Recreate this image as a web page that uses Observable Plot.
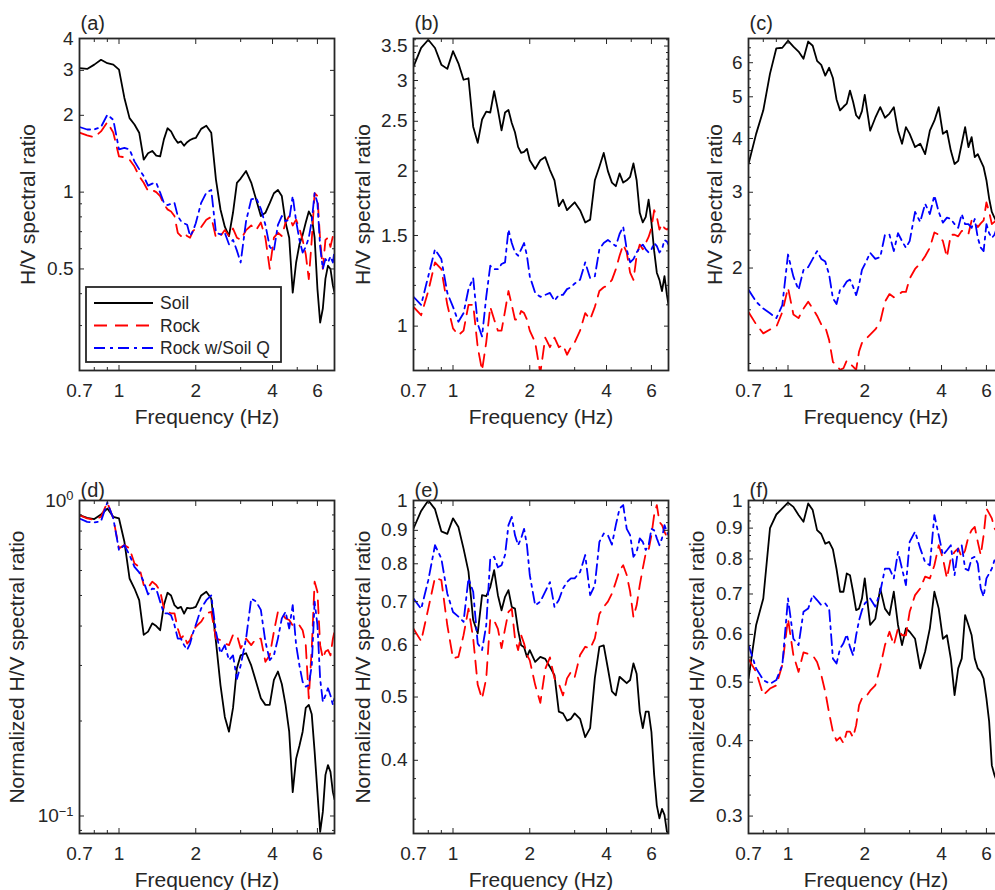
<!DOCTYPE html>
<html><head><meta charset="utf-8">
<script src="https://cdn.jsdelivr.net/npm/d3@7"></script>
<script src="https://cdn.jsdelivr.net/npm/@observablehq/plot@0.6"></script>
<style>
html,body{margin:0;padding:0;background:#fff;overflow:hidden}
#wrap{position:relative;width:995px;height:890px;overflow:hidden;font-family:"Liberation Sans",Arial,Helvetica,sans-serif}
#wrap > svg{position:absolute}
</style></head>
<body><div id="wrap"></div>
<script>
// ---- data ----
const freq = [0.70,0.75,0.80,0.85,0.90,0.95,1.00,1.05,1.10,1.15,1.20,1.25,1.30,1.35,1.40,1.45,1.50,1.55,1.60,1.65,1.70,1.75,1.80,1.85,1.90,1.95,2.00,
  2.10,2.20,2.30,2.40,2.50,2.60,2.70,2.80,2.90,3.00,
  3.15,3.30,3.45,3.60,3.75,3.90,4.05,4.20,4.35,4.50,4.65,4.80,4.95,5.10,5.25,5.40,5.55,5.70,5.85,6.00,6.15,6.30,6.45,6.60,6.75,6.90,7.00];

const seriesNames = ["Soil", "Rock", "Rock w/Soil Q"];

const aSoil = [3.06,3.04,3.16,3.30,3.20,3.16,3.02,2.34,1.95,1.84,1.71,1.34,1.42,1.45,1.39,1.38,1.61,1.78,1.73,1.63,1.56,1.58,1.52,1.57,1.60,1.62,1.63,
  1.77,1.82,1.71,1.12,0.855,0.732,0.673,0.832,1.088,1.13,
  1.21,1.09,0.936,0.806,0.83,0.905,0.99,1.02,0.965,0.76,0.663,0.404,0.53,0.624,0.68,0.76,0.84,0.80,0.663,0.418,0.308,0.35,0.458,0.515,0.5,0.43,0.404];
const aRock = [1.71,1.67,1.64,1.73,1.88,1.71,1.38,1.37,1.34,1.26,1.155,1.088,1.01,1.02,1.0,0.965,0.895,0.856,0.84,0.806,0.693,0.673,0.693,0.673,0.663,0.704,0.72,
  0.73,0.78,0.80,0.663,0.673,0.71,0.673,0.72,0.663,0.65,
  0.71,0.74,0.71,0.76,0.663,0.5,0.663,0.693,0.673,0.76,0.806,0.74,0.78,0.72,0.65,0.57,0.456,0.65,0.99,0.965,0.65,0.5,0.65,0.663,0.61,0.673,0.65];
const aRockQ = [1.80,1.76,1.76,1.80,2.01,1.92,1.47,1.49,1.47,1.32,1.23,1.155,1.06,1.08,1.088,0.995,0.908,0.89,0.9,0.908,0.806,0.77,0.755,0.745,0.673,0.704,0.755,
  0.908,0.995,1.02,0.693,0.683,0.693,0.624,0.65,0.59,0.53,
  0.77,0.936,0.95,0.86,0.745,0.61,0.59,0.745,0.806,0.77,0.78,0.965,0.77,0.65,0.58,0.61,0.663,0.77,0.99,0.908,0.61,0.5,0.547,0.53,0.56,0.53,0.59];

const bSoil = [3.19,3.47,3.60,3.47,3.22,3.16,3.42,3.24,3.01,3.03,2.44,2.27,2.52,2.61,2.60,2.86,2.63,2.40,2.60,2.63,2.48,2.38,2.23,2.17,2.18,2.21,2.10,
  2.02,2.10,2.13,2.01,1.92,1.71,1.76,1.68,1.71,1.74,
  1.68,1.59,1.61,1.92,2.04,2.17,2.0,1.90,1.87,1.98,1.90,1.92,1.95,2.07,1.92,1.66,1.59,1.63,1.76,1.59,1.40,1.27,1.23,1.17,1.25,1.15,1.10];
const bRock = [1.09,1.05,1.17,1.33,1.29,1.10,0.99,0.96,0.98,1.10,1.10,0.91,0.82,0.93,1.09,1.03,0.98,0.98,1.07,1.17,1.10,1.03,1.03,1.07,1.06,1.03,0.98,
  0.93,0.81,0.95,0.91,0.95,0.91,0.92,0.88,0.91,0.93,
  0.98,1.06,1.03,1.09,1.17,1.19,1.20,1.23,1.29,1.37,1.44,1.39,1.27,1.23,1.37,1.44,1.41,1.45,1.49,1.55,1.68,1.63,1.54,1.58,1.55,1.54,1.55];
const bRockQ = [1.14,1.10,1.25,1.41,1.35,1.16,1.09,1.02,1.06,1.18,1.24,1.01,0.955,1.14,1.31,1.29,1.29,1.32,1.33,1.54,1.45,1.39,1.37,1.41,1.45,1.37,1.25,
  1.16,1.14,1.15,1.16,1.12,1.15,1.15,1.18,1.19,1.21,
  1.23,1.33,1.24,1.25,1.41,1.45,1.47,1.45,1.43,1.51,1.56,1.41,1.33,1.35,1.39,1.42,1.44,1.41,1.39,1.41,1.45,1.43,1.39,1.41,1.47,1.46,1.44];

const cSoil = [3.49,4.10,4.65,5.66,6.48,6.50,6.75,6.54,6.37,6.13,6.72,6.57,6.06,5.93,5.60,5.84,5.53,4.93,4.65,4.74,4.82,5.17,4.87,4.53,4.45,4.63,5.05,
  4.17,4.47,4.73,4.47,4.57,4.73,4.17,3.89,4.25,4.10,
  3.82,3.89,3.68,4.17,4.40,4.73,4.10,4.17,3.75,3.49,3.55,3.89,4.25,3.82,4.03,3.62,3.68,3.55,3.43,3.20,2.90,2.70,2.62,2.55,2.50,2.45,2.40];
const cRock = [1.58,1.48,1.41,1.44,1.46,1.58,1.80,1.56,1.53,1.61,1.67,1.61,1.55,1.48,1.46,1.36,1.21,1.19,1.16,1.17,1.22,1.20,1.18,1.16,1.28,1.34,1.36,
  1.40,1.44,1.50,1.67,1.74,1.71,1.73,1.76,1.76,1.89,
  1.99,2.05,2.13,2.23,2.42,2.39,2.31,2.12,2.39,2.39,2.37,2.44,2.44,2.40,2.58,2.56,2.49,2.54,2.58,2.84,2.70,2.53,2.56,2.62,2.67,2.62,2.60];
const cRockQ = [1.78,1.67,1.61,1.57,1.53,1.64,2.15,1.91,1.78,1.98,2.01,2.10,2.19,2.10,2.07,1.93,1.70,1.65,1.78,1.81,1.86,1.88,1.81,1.73,1.83,1.98,2.04,
  2.17,2.10,2.12,2.39,2.39,2.19,2.41,2.31,2.23,2.31,
  2.70,2.56,2.82,2.67,2.95,2.70,2.55,2.62,2.60,2.53,2.48,2.67,2.53,2.53,2.48,2.60,2.35,2.23,2.19,2.53,2.41,2.35,2.39,2.48,2.43,2.40,2.41];

const dSoil = [0.899,0.881,0.873,0.903,0.943,0.888,0.877,0.74,0.566,0.526,0.483,0.375,0.384,0.408,0.40,0.388,0.466,0.51,0.50,0.466,0.455,0.46,0.438,0.457,0.455,0.457,0.46,
  0.50,0.514,0.489,0.357,0.26,0.206,0.185,0.22,0.294,0.323,
  0.328,0.30,0.266,0.236,0.225,0.225,0.27,0.287,0.262,0.225,0.185,0.119,0.152,0.167,0.185,0.22,0.225,0.21,0.16,0.119,0.089,0.103,0.135,0.145,0.138,0.119,0.113];
const dRock = [0.899,0.877,0.869,0.888,0.986,0.877,0.705,0.722,0.705,0.631,0.616,0.54,0.529,0.553,0.54,0.516,0.455,0.444,0.439,0.439,0.393,0.365,0.375,0.352,0.361,0.384,0.398,
  0.413,0.439,0.444,0.365,0.361,0.352,0.348,0.375,0.375,0.34,
  0.365,0.348,0.365,0.365,0.308,0.323,0.384,0.444,0.439,0.423,0.418,0.402,0.398,0.402,0.388,0.348,0.236,0.34,0.553,0.514,0.348,0.316,0.332,0.336,0.323,0.365,0.384];
const dRockQ = [0.877,0.856,0.852,0.86,0.986,0.877,0.696,0.722,0.671,0.616,0.592,0.553,0.504,0.526,0.524,0.478,0.439,0.439,0.433,0.403,0.365,0.365,0.348,0.336,0.352,0.38,0.403,
  0.455,0.483,0.50,0.384,0.328,0.348,0.312,0.323,0.272,0.30,
  0.365,0.489,0.478,0.45,0.357,0.312,0.323,0.365,0.423,0.444,0.393,0.466,0.348,0.30,0.266,0.257,0.26,0.30,0.478,0.403,0.272,0.23,0.241,0.254,0.241,0.225,0.236];

const eSoil = [0.906,0.964,1.0,0.97,0.897,0.889,0.939,0.911,0.844,0.778,0.656,0.626,0.716,0.714,0.737,0.782,0.716,0.679,0.712,0.729,0.687,0.683,0.633,0.60,0.596,0.576,0.59,
  0.566,0.576,0.572,0.556,0.54,0.475,0.472,0.46,0.463,0.472,
  0.463,0.434,0.448,0.535,0.597,0.60,0.553,0.51,0.503,0.537,0.531,0.525,0.531,0.563,0.543,0.475,0.448,0.475,0.475,0.442,0.38,0.341,0.326,0.337,0.33,0.311,0.309];
const eRock = [0.636,0.609,0.683,0.762,0.755,0.644,0.573,0.576,0.622,0.683,0.615,0.522,0.497,0.534,0.659,0.655,0.636,0.594,0.636,0.675,0.683,0.615,0.59,0.622,0.604,0.58,0.569,
  0.522,0.49,0.552,0.575,0.534,0.524,0.503,0.534,0.546,0.536,
  0.58,0.597,0.593,0.615,0.67,0.687,0.70,0.72,0.75,0.782,0.796,0.769,0.725,0.663,0.691,0.742,0.787,0.83,0.84,0.885,0.95,0.984,0.927,0.917,0.895,0.88,0.885];
const eRockQ = [0.708,0.682,0.755,0.854,0.815,0.72,0.675,0.664,0.652,0.76,0.725,0.604,0.59,0.644,0.815,0.82,0.79,0.796,0.825,0.917,0.944,0.885,0.854,0.875,0.905,0.854,0.769,
  0.691,0.70,0.725,0.75,0.687,0.704,0.733,0.75,0.76,0.76,
  0.777,0.825,0.716,0.742,0.864,0.89,0.885,0.856,0.917,0.972,0.984,0.905,0.885,0.82,0.834,0.875,0.864,0.84,0.854,0.905,0.9,0.875,0.854,0.875,0.917,0.895,0.885];

const fSoil = [0.507,0.622,0.688,0.90,0.948,0.97,0.992,0.976,0.946,0.922,0.989,0.964,0.893,0.88,0.848,0.854,0.83,0.77,0.706,0.706,0.757,0.752,0.706,0.658,0.662,0.688,0.743,
  0.622,0.637,0.715,0.662,0.646,0.706,0.622,0.576,0.614,0.606,
  0.59,0.527,0.562,0.614,0.706,0.662,0.59,0.598,0.547,0.476,0.527,0.547,0.646,0.622,0.598,0.547,0.527,0.52,0.507,0.47,0.43,0.364,0.351,0.342,0.337,0.333,0.329];
const fRock = [0.546,0.52,0.476,0.488,0.494,0.534,0.637,0.554,0.52,0.56,0.557,0.554,0.54,0.514,0.482,0.444,0.414,0.40,0.405,0.396,0.414,0.414,0.405,0.424,0.458,0.47,0.47,
  0.484,0.494,0.53,0.576,0.606,0.576,0.614,0.598,0.598,0.654,
  0.697,0.715,0.748,0.743,0.781,0.843,0.802,0.743,0.802,0.822,0.833,0.806,0.827,0.871,0.893,0.904,0.854,0.812,0.876,0.97,0.952,0.934,0.899,0.888,0.9,0.888,0.894];
const fRockQ = [0.576,0.527,0.504,0.497,0.504,0.534,0.688,0.59,0.576,0.654,0.662,0.697,0.684,0.671,0.675,0.662,0.547,0.537,0.568,0.58,0.6,0.572,0.554,0.598,0.633,0.658,0.675,
  0.688,0.667,0.706,0.771,0.771,0.743,0.822,0.771,0.724,0.854,
  0.888,0.833,0.79,0.781,0.946,0.876,0.812,0.827,0.843,0.752,0.833,0.843,0.771,0.766,0.802,0.807,0.786,0.715,0.693,0.743,0.757,0.771,0.796,0.79,0.78,0.786,0.781];

// tick values and labels
const xTicks = [0.7, 1, 2, 4, 6];
const xMinor = [0.8, 0.9, 3, 5, 7];
const yTicksA = [0.5, 1, 2, 3, 4];
const yTicksB = [1, 1.5, 2, 2.5, 3, 3.5];
const yTicksC = [2, 3, 4, 5, 6];
const yTicksD = [0.1, 1];
const yTicksE = [0.4, 0.5, 0.6, 0.7, 0.8, 0.9, 1];
const yTicksF = [0.3, 0.4, 0.5, 0.6, 0.7, 0.8, 0.9, 1];
const panelLetters = ["(a)", "(b)", "(c)", "(d)", "(e)", "(f)"];
const yTitleTop = "H/V spectral ratio";
const yTitleBottom = "Normalized H/V spectral ratio";
const xTitle = "Frequency (Hz)";

// ---- layout ----
const minorE = d3.range(0.325, 1.0, 0.025).map(v => +v.toFixed(3)).filter(v => !yTicksE.some(t => Math.abs(t - v) < 1e-6));
const minorF = d3.range(0.3, 1.0, 0.025).map(v => +v.toFixed(3)).filter(v => !yTicksF.some(t => Math.abs(t - v) < 1e-6));
const fmt = d => String(d);
const panels = [
  {letter: panelLetters[0], left: 79, top: 38, h: 332, ydom: [0.2, 4], yTicks: yTicksA, yMinor: [0.3,0.4,0.6,0.7,0.8,0.9], fmt, title: yTitleTop, yOff: 59, lDy: -9, s: [aSoil, aRock, aRockQ]},
  {letter: panelLetters[1], left: 413, top: 38, h: 332, ydom: [0.82, 3.62], yTicks: yTicksB, yMinor: [0.9,1.1,1.2,1.3,1.4,1.6,1.7,1.8,1.9,2.1,2.2,2.3,2.4,2.6,2.7,2.8,2.9,3.1,3.2,3.3,3.4,3.6], fmt, title: yTitleTop, yOff: 58, lDy: -9, s: [bSoil, bRock, bRockQ]},
  {letter: panelLetters[2], left: 748, top: 38, h: 332, ydom: [1.156, 6.83], yTicks: yTicksC, yMinor: [1.2,1.4,1.6,1.8,2.2,2.4,2.6,2.8,3.25,3.5,3.75,4.25,4.5,4.75,5.25,5.5,5.75,6.25,6.5], fmt, title: yTitleTop, yOff: 41, lDy: -9, s: [cSoil, cRock, cRockQ]},
  {letter: panelLetters[3], left: 79, top: 500, h: 333, ydom: [0.088, 1], yTicks: yTicksD, yMinor: [0.09,0.2,0.3,0.4,0.5,0.6,0.7,0.8,0.9], fmt: d => d === 1 ? "10^0" : "10^-1", title: yTitleBottom, yOff: 70, lDy: -4, s: [dSoil, dRock, dRockQ]},
  {letter: panelLetters[4], left: 413, top: 500, h: 333, ydom: [0.309, 1], yTicks: yTicksE, yMinor: minorE, fmt, title: yTitleBottom, yOff: 58, lDy: -4, s: [eSoil, eRock, eRockQ]},
  {letter: panelLetters[5], left: 748, top: 500, h: 333, ydom: [0.2807, 1], yTicks: yTicksF, yMinor: minorF, fmt, title: yTitleBottom, yOff: 59, lDy: -4, s: [fSoil, fRock, fRockQ]}
];

const styles = [
  {stroke: "#000000", dash: null},
  {stroke: "#ff0000", dash: "13,8"},
  {stroke: "#0000ff", dash: "11,5,3,5"}
];
const ink = "#262626";
const W = 255, mL = 82, mR = 10, mT = 36, mB = 60;
const blank = () => "";
const wrap = d3.select("#wrap");

for (const p of panels) {
  const lines = p.s.map((arr, k) => Plot.line(freq.map((f, i) => ({f, v: arr[i]})), {
    x: "f", y: "v", stroke: styles[k].stroke, strokeWidth: 1.8,
    strokeDasharray: styles[k].dash, clip: true
  }));
  const svg = Plot.plot({
    width: mL + W + mR, height: mT + p.h + mB,
    marginLeft: mL, marginRight: mR, marginTop: mT, marginBottom: mB,
    x: {type: "log", domain: [0.7, 7]},
    y: {type: "log", domain: p.ydom},
    style: {fontFamily: '"Liberation Sans", Arial, Helvetica, sans-serif', fontSize: "19px", color: ink, background: "transparent", overflow: "visible"},
    marks: [
      ...lines,
      Plot.axisX({anchor: "bottom", ticks: xTicks, tickSize: -5, tickPadding: 18, tickFormat: fmt, label: null, stroke: ink}),
      Plot.axisX({anchor: "bottom", ticks: xMinor, tickSize: -3, tickFormat: blank, label: null, stroke: ink}),
      Plot.axisX({anchor: "top", ticks: xTicks, tickSize: -5, tickFormat: blank, label: null, stroke: ink}),
      Plot.axisX({anchor: "top", ticks: xMinor, tickSize: -3, tickFormat: blank, label: null, stroke: ink}),
      Plot.axisY({anchor: "left", ticks: p.yTicks, tickSize: -5, tickPadding: 11, tickFormat: p.fmt, label: null, stroke: ink}),
      Plot.axisY({anchor: "left", ticks: p.yMinor, tickSize: -3, tickFormat: blank, label: null, stroke: ink}),
      Plot.axisY({anchor: "right", ticks: p.yTicks, tickSize: -5, tickFormat: blank, label: null, stroke: ink}),
      Plot.axisY({anchor: "right", ticks: p.yMinor, tickSize: -3, tickFormat: blank, label: null, stroke: ink}),
      Plot.frame({stroke: ink, strokeWidth: 1.8}),
      Plot.text([p.title], {text: d => d, frameAnchor: "left", rotate: -90, dx: -p.yOff, lineAnchor: "top", textAnchor: "middle", fontSize: 21, fill: ink}),
      Plot.text([xTitle], {text: d => d, frameAnchor: "bottom", dy: 53, lineAnchor: "bottom", textAnchor: "middle", fontSize: 21, fill: ink}),
      Plot.text([p.letter], {text: d => d, frameAnchor: "top-left", dx: 1, dy: p.lDy, lineAnchor: "bottom", textAnchor: "start", fontSize: 20, fill: ink})
    ]
  });
  // superscript exponents for 10^n labels
  d3.select(svg).selectAll("text").each(function() {
    const t = this.textContent;
    if (t.includes("^")) {
      const [b, e] = t.split("^");
      const s = d3.select(this);
      s.text(b);
      s.append("tspan").attr("dy", "-0.5em").attr("font-size", "0.68em").text(e.replace("-", "\u2212"));
    }
  });
  svg.style.left = (p.left - mL) + "px";
  svg.style.top = (p.top - mT) + "px";
  wrap.node().appendChild(svg);
}

// legend inside panel (a)
const lg = wrap.append("svg").attr("width", 197).attr("height", 77)
  .style("left", "85px").style("top", "286px");
lg.append("rect").attr("x", 1).attr("y", 1).attr("width", 195).attr("height", 75)
  .attr("fill", "#fff").attr("stroke", ink).attr("stroke-width", 1.8);
seriesNames.forEach((name, k) => {
  const y = 17 + k * 22.5;
  lg.append("line").attr("x1", 9).attr("x2", 68).attr("y1", y).attr("y2", y)
    .attr("stroke", styles[k].stroke).attr("stroke-width", 1.8)
    .attr("stroke-dasharray", styles[k].dash);
  lg.append("text").attr("x", 75).attr("y", y).attr("dy", "0.35em")
    .attr("font-size", "17.5px").attr("fill", ink)
    .attr("font-family", '"Liberation Sans", Arial, Helvetica, sans-serif').text(name);
});
</script>
</body></html>
